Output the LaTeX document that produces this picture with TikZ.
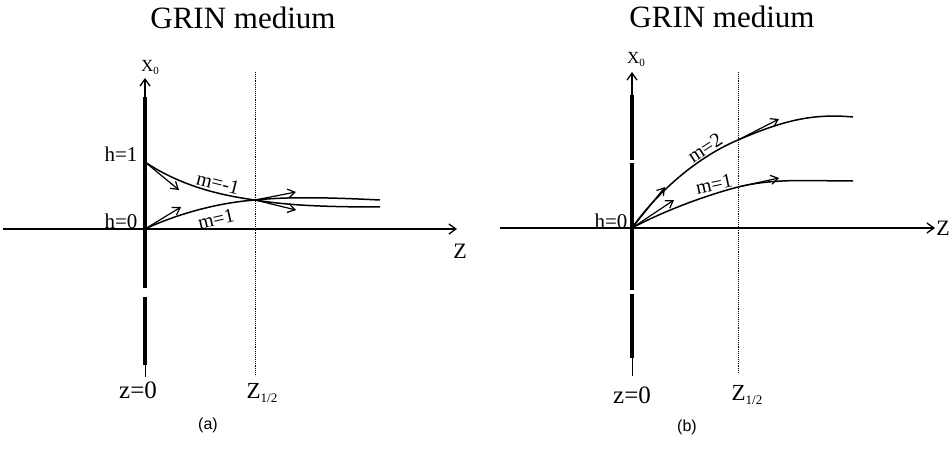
\documentclass[tikz,border=0pt]{standalone}
\usepackage{fontspec}
\setmainfont{Liberation Serif}
\newfontfamily\capfont{Liberation Sans}
\usetikzlibrary{arrows.meta}
\begin{document}
\begin{tikzpicture}[x=1pt,y=-1pt,
  axis/.style={line width=1.5pt},
  axhead/.style={-{Straight Barb[length=7pt,width=10pt,line width=1.3pt]}},
  ray/.style={line width=1.5pt},
  vec/.style={line width=1.2pt,-{Straight Barb[length=7pt,width=9pt,line width=1.2pt]}},
  medium/.style={line width=4.5pt},
  guide/.style={line width=0.9pt,densely dotted},
  title/.style={inner sep=0pt,font=\fontsize{31}{31}\selectfont},
  hlbl/.style={inner sep=0pt,font=\fontsize{21}{21}\selectfont},
  mlbl/.style={inner sep=0pt,font=\fontsize{20}{20}\selectfont},
  zlbl/.style={inner sep=0pt,font=\fontsize{25}{25}\selectfont},
  zhalf/.style={inner sep=0pt,font=\fontsize{23}{23}\selectfont},
  xlbl/.style={inner sep=0pt,font=\fontsize{17}{17}\selectfont},
  caplbl/.style={inner sep=0pt,font=\capfont\fontsize{16}{16}\selectfont}
]
\useasboundingbox (0,0) rectangle (951,449);

% ---------------- panel (a) ----------------
\node[title] (ta) at (243,18) {GRIN medium};
\coordinate (aorig) at (145,229);
\coordinate (ah1) at (145,162);
\coordinate (atop) at (145,78);
\coordinate (amtop) at (145,97);
\coordinate (agap1) at (145,288);
\coordinate (agap2) at (145,297);
\coordinate (ambot) at (145,365);
\coordinate (abot) at (145,377);
\coordinate (aleft) at (3,229);
\coordinate (aright) at (457,229);
\coordinate (aguidetop) at (255,72);
\coordinate (aguidebot) at (255,376);
\coordinate (across) at (255,200);
\coordinate (aend1) at (380,200);
\coordinate (aend2) at (380,207);

\draw[axis,axhead] (amtop) -- (atop);
\draw[medium] (amtop) -- (agap1);
\draw[medium] (agap2) -- (ambot);
\draw[line width=1pt] (ambot) -- (abot);
\draw[axis,axhead] (aleft) -- (aright);
\draw[guide] (aguidetop) -- (aguidebot);

\draw[ray] (ah1) .. controls (175,182) and (210,194) .. (across)
  .. controls (280,204) and (310,207) .. (aend2);
\draw[ray] (aorig) .. controls (175,215) and (215,203) .. (across)
  .. controls (285,197) and (320,197) .. (aend1);

\coordinate (av1) at (179,190);
\coordinate (av2) at (181,207);
\coordinate (av3) at (296,192);
\coordinate (av4) at (296,210);
\draw[vec] (ah1) -- (av1);
\draw[vec] (aorig) -- (av2);
\draw[vec] (across) -- (av3);
\draw[vec] (across) -- (av4);

\node[mlbl,rotate=-14] (amneg) at (218,183) {m=-1};
\node[mlbl,rotate=13] (amone) at (216,219) {m=1};
\node[hlbl] (ahone) at (121,154) {h=1};
\node[hlbl] (ahzero) at (121,221) {h=0};
\node[xlbl] (ax) at (150,67) {X\raisebox{-3pt}{\fontsize{11}{11}\selectfont 0}};
\node[hlbl,font=\fontsize{22}{22}\selectfont] (az) at (460,251) {Z};
\node[zlbl] (azzero) at (138,390) {z=0};
\node[zhalf] (azhalf) at (262,393) {Z\raisebox{-4pt}{\fontsize{13}{13}\selectfont 1/2}};
\node[caplbl] (capa) at (208,425) {(a)};

% ---------------- panel (b) ----------------
\node[title] (tb) at (722,17) {GRIN medium};
\coordinate (borig) at (632,228);
\coordinate (btop) at (632,72);
\coordinate (bmtop) at (632,95);
\coordinate (bgap1) at (632,160);
\coordinate (bgap2) at (632,163);
\coordinate (bgap3) at (632,290);
\coordinate (bgap4) at (632,294);
\coordinate (bmbot) at (632,358);
\coordinate (bbot) at (632,376);
\coordinate (bleft) at (500,228);
\coordinate (bright) at (935,228);
\coordinate (bguidetop) at (738,72);
\coordinate (bguidebot) at (738,373);
\coordinate (bc2) at (738,140);
\coordinate (bc1) at (738,187);
\coordinate (bend2) at (853,117);
\coordinate (bend1) at (853,181);

\draw[axis,axhead] (bmtop) -- (btop);
\draw[medium] (bmtop) -- (bgap1);
\draw[medium] (bgap2) -- (bgap3);
\draw[medium] (bgap4) -- (bmbot);
\draw[line width=1pt] (bmbot) -- (bbot);
\draw[axis,axhead] (bleft) -- (bright);
\draw[guide] (bguidetop) -- (bguidebot);

\draw[ray] (borig) .. controls (655,195) and (695,158) .. (bc2)
  .. controls (780,122) and (810,113) .. (bend2);
\draw[ray] (borig) .. controls (660,213) and (700,197) .. (bc1)
  .. controls (775,178) and (810,181) .. (bend1);

\coordinate (bv1) at (665,187);
\coordinate (bv2) at (674,200);
\coordinate (bv3) at (779,119);
\coordinate (bv4) at (779,178);
\draw[vec] (borig) -- (bv1);
\draw[vec] (borig) -- (bv2);
\draw[vec] (bc2) -- (bv3);
\draw[vec] (bc1) -- (bv4);

\node[mlbl,rotate=33] (bmtwo) at (705,148) {m=2};
\node[mlbl,rotate=12] (bmone) at (714,184) {m=1};
\node[hlbl] (bhzero) at (611,221) {h=0};
\node[xlbl] (bx) at (636,59) {X\raisebox{-3pt}{\fontsize{11}{11}\selectfont 0}};
\node[hlbl,font=\fontsize{22}{22}\selectfont] (bz) at (943,228) {Z};
\node[zlbl] (bzzero) at (632,395) {z=0};
\node[zhalf] (bzhalf) at (747,395) {Z\raisebox{-4pt}{\fontsize{13}{13}\selectfont 1/2}};
\node[caplbl] (capb) at (687,427) {(b)};
\end{tikzpicture}
\end{document}
